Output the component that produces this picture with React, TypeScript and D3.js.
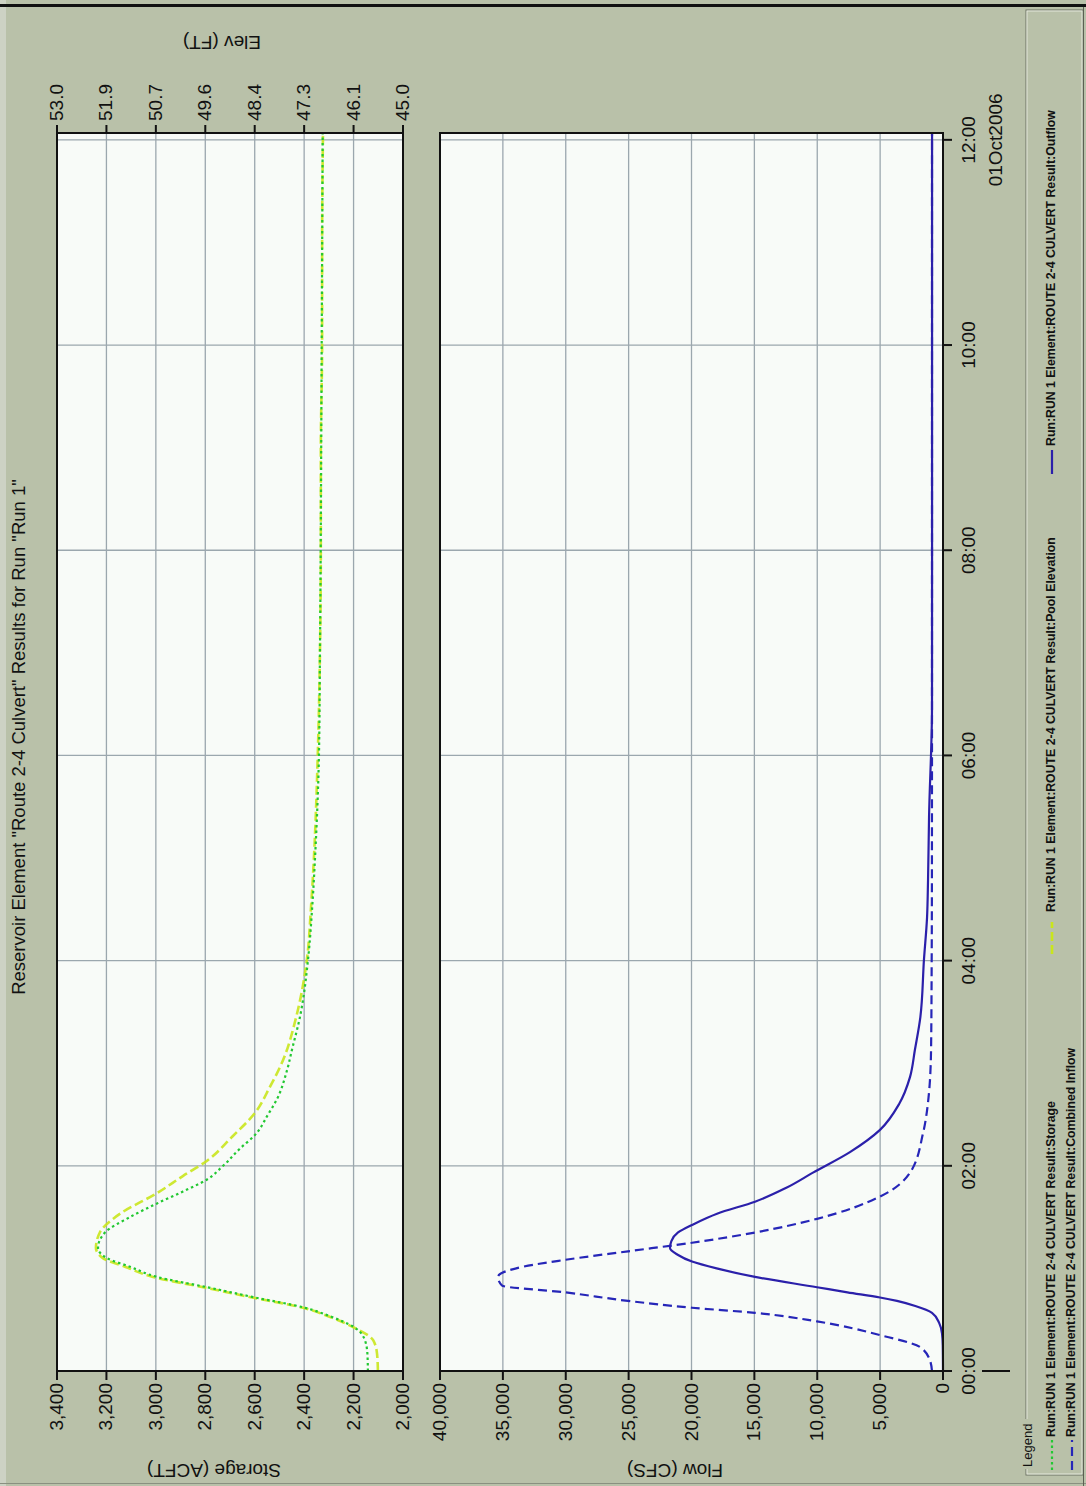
import React from "react";
import * as d3 from "d3";

// ---------- data (minutes after 00:00, 01Oct2006) ----------
const storageMinutes = [0, 10, 18, 26, 32, 37, 43, 49, 55, 61, 66, 72, 81, 90, 98, 105, 112, 120, 130, 138, 150, 159, 176, 188, 207, 241, 270, 300, 361, 420, 480, 540, 600, 660, 724];
const storageAcft = [2142, 2144, 2154, 2202, 2295, 2397, 2599, 2793, 2995, 3105, 3198, 3234, 3206, 3105, 2995, 2890, 2793, 2728, 2660, 2599, 2546, 2510, 2469, 2449, 2417, 2384, 2368, 2356, 2340, 2336, 2333, 2331, 2329, 2327, 2325];

const poolMinutes = [0, 10, 18, 26, 32, 37, 43, 49, 55, 61, 66, 72, 81, 92, 104, 114, 123, 137, 151, 166, 182, 207, 241, 270, 300, 361, 420, 480, 540, 600, 660, 724];
const poolElevFt = [45.58, 45.6, 45.69, 46.18, 46.73, 47.31, 48.49, 49.62, 50.78, 51.43, 51.94, 52.1, 52.01, 51.54, 50.69, 50.09, 49.53, 48.95, 48.42, 48.08, 47.77, 47.47, 47.22, 47.13, 47.06, 46.97, 46.92, 46.9, 46.9, 46.87, 46.87, 46.85];

const inflowMinutes = [0, 6, 14, 21, 29, 34, 37, 41, 46, 50, 55, 61, 65, 70, 75, 81, 89, 102, 116, 139, 160, 188, 240, 300, 390, 480, 600, 724];
const inflowCfs = [875, 1030, 1830, 5010, 10020, 14950, 19960, 25050, 30060, 35070, 35390, 33400, 30060, 25050, 19960, 14950, 10020, 5010, 2620, 1590, 1150, 950, 900, 880, 875, 875, 875, 875];

const outflowMinutes = [0, 15, 22, 28, 34, 38, 41, 43, 46, 49, 55, 60, 64, 68, 72, 76, 81, 86, 92, 99, 107, 116, 128, 141, 156, 172, 188, 207, 241, 265, 287, 324, 388, 480, 600, 724];
const outflowCfs = [0, 20, 80, 300, 875, 2200, 3660, 5010, 7600, 10020, 14950, 18000, 19960, 21100, 21710, 21600, 21070, 19800, 17970, 14950, 12500, 10340, 7400, 5010, 3500, 2620, 2230, 1800, 1510, 1270, 1190, 1110, 875, 870, 870, 870];

const storageTicks = [2000, 2200, 2400, 2600, 2800, 3000, 3200, 3400];
const elevTickLabels = ["53.0", "51.9", "50.7", "49.6", "48.4", "47.3", "46.1", "45.0"];
const flowTicks = [0, 5000, 10000, 15000, 20000, 25000, 30000, 35000, 40000];
const timeTicks = [0, 120, 240, 360, 480, 600, 720];
const timeTickLabels = ["00:00", "02:00", "04:00", "06:00", "08:00", "10:00", "12:00"];

const titleText = 'Reservoir Element "Route 2-4 Culvert" Results for Run "Run 1"';
const legendLabels = [
  "Run:RUN 1 Element:ROUTE 2-4 CULVERT Result:Storage",
  "Run:RUN 1 Element:ROUTE 2-4 CULVERT Result:Combined Inflow",
  "Run:RUN 1 Element:ROUTE 2-4 CULVERT Result:Pool Elevation",
  "Run:RUN 1 Element:ROUTE 2-4 CULVERT Result:Outflow",
];

// ---------- layout (drawn in the un-rotated frame, then rotated -90deg) ----------
const IMG_W = 1086;
const IMG_H = 1486;
const FONT = "'Liberation Sans', Arial, Helvetica, sans-serif";
const BG = "#b9c1a9";
const PLOT_BG = "#f8fbf8";
const GRID = "#9ba7ae";

const X0 = 115;
const X1 = 1353;
const S_TOP = 57;
const S_BOT = 403;
const F_TOP = 440;
const F_BOT = 943;

const COL_STORAGE = "#22c832";
const COL_POOL = "#c9e61c";
const COL_INFLOW = "#2626b8";
const COL_OUTFLOW = "#2b20aa";

export default function App() {
  const tx = d3.scaleLinear().domain([0, 724]).range([X0, X1]);
  const sy = d3.scaleLinear().domain([2000, 3400]).range([S_BOT, S_TOP]);
  const ey = d3.scaleLinear().domain([45, 53]).range([S_BOT, S_TOP]);
  const fy = d3.scaleLinear().domain([0, 40000]).range([F_BOT, F_TOP]);
  const fmt = d3.format(",");

  const mkLine = (mins: number[], yS: (v: number) => number) =>
    d3
      .line<number>()
      .x((_, i) => tx(mins[i]))
      .y((d) => yS(d))
      .curve(d3.curveMonotoneX);

  const storagePath = mkLine(storageMinutes, sy)(storageAcft) || "";
  const poolPath = mkLine(poolMinutes, ey)(poolElevFt) || "";
  const inflowPath = mkLine(inflowMinutes, fy)(inflowCfs) || "";
  const outflowPath = mkLine(outflowMinutes, fy)(outflowCfs) || "";

  const elevPositions = elevTickLabels.map((_, i) => 53 - (i * 8) / 7);

  return (
    <svg
      width={IMG_W}
      height={IMG_H}
      style={{ position: "absolute", left: 0, top: 0, display: "block" }}
      fontFamily={FONT}
    >
      <rect x={0} y={0} width={IMG_W} height={IMG_H} fill={BG} />
      <rect x={0} y={0} width={6} height={IMG_H} fill="#cdd2c4" />

      <g transform={`translate(0,${IMG_H}) rotate(-90)`}>
        {/* title */}
        <text x={749} y={25} textAnchor="middle" fontSize={18.5} fill="#111">
          {titleText}
        </text>

        {/* ---------- storage / elevation panel ---------- */}
        <rect x={X0} y={S_TOP} width={X1 - X0} height={S_BOT - S_TOP} fill={PLOT_BG} />
        {storageTicks.map((t) => (
          <line key={"sg" + t} x1={X0} x2={X1} y1={sy(t)} y2={sy(t)} stroke={GRID} strokeWidth={1.3} />
        ))}
        {timeTicks.map((t) => (
          <line key={"stg" + t} x1={tx(t)} x2={tx(t)} y1={S_TOP} y2={S_BOT} stroke={GRID} strokeWidth={1.3} />
        ))}
        <path d={poolPath} fill="none" stroke={COL_POOL} strokeWidth={2.6} strokeDasharray="9,4" opacity={0.9} />
        <path d={storagePath} fill="none" stroke={COL_STORAGE} strokeWidth={2.2} strokeDasharray="2.5,3" />
        <rect x={X0} y={S_TOP} width={X1 - X0} height={S_BOT - S_TOP} fill="none" stroke="#111" strokeWidth={2} />

        {/* storage axis (left) */}
        {storageTicks.map((t) => (
          <g key={"sl" + t}>
            <line x1={X0 - 9} x2={X0} y1={sy(t)} y2={sy(t)} stroke="#111" strokeWidth={2} />
            <text x={X0 - 12} y={sy(t) + 1} textAnchor="end" dominantBaseline="middle" fontSize={19} fill="#111">
              {fmt(t)}
            </text>
          </g>
        ))}
        <text transform={`translate(22,214) rotate(-90)`} textAnchor="middle" fontSize={19} fill="#111">
          Storage (ACFT)
        </text>

        {/* elevation axis (right) */}
        {elevTickLabels.map((lab, i) => (
          <g key={"el" + lab}>
            <line x1={X1} x2={X1 + 8} y1={ey(elevPositions[i])} y2={ey(elevPositions[i])} stroke="#111" strokeWidth={2} />
            <text x={X1 + 12} y={ey(elevPositions[i]) + 1} dominantBaseline="middle" fontSize={19} fill="#111">
              {lab}
            </text>
          </g>
        ))}
        <text transform={`translate(1450,222) rotate(-90)`} textAnchor="middle" fontSize={19} fill="#111">
          Elev (FT)
        </text>

        {/* ---------- flow panel ---------- */}
        <rect x={X0} y={F_TOP} width={X1 - X0} height={F_BOT - F_TOP} fill={PLOT_BG} />
        {flowTicks.map((t) => (
          <line key={"fg" + t} x1={X0} x2={X1} y1={fy(t)} y2={fy(t)} stroke={GRID} strokeWidth={1.3} />
        ))}
        {timeTicks.map((t) => (
          <line key={"ftg" + t} x1={tx(t)} x2={tx(t)} y1={F_TOP} y2={F_BOT} stroke={GRID} strokeWidth={1.3} />
        ))}
        <path d={inflowPath} fill="none" stroke={COL_INFLOW} strokeWidth={2.2} strokeDasharray="9,5" />
        <path d={outflowPath} fill="none" stroke={COL_OUTFLOW} strokeWidth={2.2} />
        <rect x={X0} y={F_TOP} width={X1 - X0} height={F_BOT - F_TOP} fill="none" stroke="#111" strokeWidth={2} />

        {flowTicks.map((t) => (
          <g key={"fl" + t}>
            <line x1={X0 - 9} x2={X0} y1={fy(t)} y2={fy(t)} stroke="#111" strokeWidth={2} />
            <text x={X0 - 12} y={fy(t) + 1} textAnchor="end" dominantBaseline="middle" fontSize={19} fill="#111">
              {fmt(t)}
            </text>
          </g>
        ))}
        <text transform={`translate(22,675) rotate(-90)`} textAnchor="middle" fontSize={19} fill="#111">
          Flow (CFS)
        </text>

        {/* time axis */}
        {timeTicks.map((t, i) => (
          <g key={"tl" + t}>
            <line x1={tx(t)} x2={tx(t)} y1={F_BOT} y2={F_BOT + 9} stroke="#111" strokeWidth={2} />
            <text x={tx(t)} y={975} textAnchor="middle" fontSize={19} fill="#111">
              {timeTickLabels[i]}
            </text>
          </g>
        ))}
        <line x1={tx(0)} x2={tx(0)} y1={982} y2={1010} stroke="#111" strokeWidth={2} />
        <text x={tx(720)} y={1002} textAnchor="middle" fontSize={19} fill="#111">
          01Oct2006
        </text>

        {/* ---------- legend ---------- */}
        <rect x={11} y={1026} width={1465} height={57} fill="none" stroke="#6c7264" strokeWidth={1} />
        <rect x={12} y={1027} width={1463} height={55} fill="none" stroke="#e4e8dc" strokeWidth={1} />
        <rect x={17} y={1020} width={50} height={14} fill={BG} />
        <text x={19} y={1032} fontSize={13} fill="#111">
          Legend
        </text>

        <line x1={16} x2={46} y1={1052} y2={1052} stroke={COL_STORAGE} strokeWidth={2.2} strokeDasharray="2.5,3" />
        <text x={49} y={1052} dominantBaseline="middle" fontSize={12.3} fontWeight="bold" fill="#111">
          {legendLabels[0]}
        </text>
        <line x1={16} x2={46} y1={1072} y2={1072} stroke={COL_INFLOW} strokeWidth={2.2} strokeDasharray="9,5" />
        <text x={49} y={1072} dominantBaseline="middle" fontSize={12.3} fontWeight="bold" fill="#111">
          {legendLabels[1]}
        </text>
        <line x1={532} x2={564} y1={1052} y2={1052} stroke={COL_POOL} strokeWidth={2.6} strokeDasharray="9,4" />
        <text x={574} y={1052} dominantBaseline="middle" fontSize={12.3} fontWeight="bold" fill="#111">
          {legendLabels[2]}
        </text>
        <line x1={1012} x2={1036} y1={1052} y2={1052} stroke={COL_OUTFLOW} strokeWidth={2.2} />
        <text x={1040} y={1052} dominantBaseline="middle" fontSize={12.3} fontWeight="bold" fill="#111">
          {legendLabels[3]}
        </text>
      </g>

      {/* window frame lines */}
      <rect x={0} y={4} width={IMG_W} height={3} fill="#111" />
      <line x1={0} x2={IMG_W} y1={1483.5} y2={1483.5} stroke="#8a9080" strokeWidth={1} />
      <line x1={1083.5} x2={1083.5} y1={7} y2={IMG_H} stroke="#5a6052" strokeWidth={1} />
    </svg>
  );
}
